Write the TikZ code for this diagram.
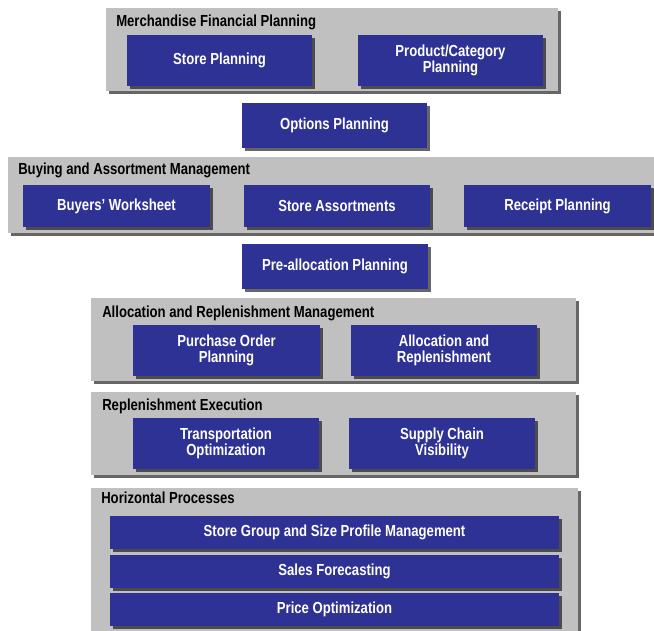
\documentclass[tikz,border=0pt]{standalone}
\usepackage{fontspec}
\setmainfont[FakeStretch=0.82]{Liberation Sans}
\usetikzlibrary{shadows,fit}
\definecolor{boxblue}{RGB}{46,50,148}
\definecolor{panelgray}{RGB}{192,192,192}
\begin{document}
\begin{tikzpicture}[x=0.75pt,y=-0.75pt,
  panel/.style={fill=panelgray, draw=none, inner sep=0pt,
    drop shadow={shadow xshift=2.2pt, shadow yshift=-2.2pt, fill=black, opacity=0.6}},
  box/.style={fill=boxblue, draw=none, inner sep=0pt,
    drop shadow={shadow xshift=2.2pt, shadow yshift=-2.2pt, fill=black, opacity=0.6}},
  boxtext/.style={inner sep=0pt, text=white, align=center,
    font=\bfseries\fontsize{12}{11.8}\selectfont},
  ptitle/.style={anchor=base west, inner sep=0pt, text=black,
    font=\bfseries\fontsize{12}{12}\selectfont}]
\useasboundingbox (0,0) rectangle (654,631);
\fill[white] (0,0) rectangle (654,631);

% Panels
\node[panel, fit={(106,8) (558,91)}] (p1) {};
\node[panel, fit={(8,157) (660,233)}] (p2) {};
\node[panel, fit={(91,298) (576,381)}] (p3) {};
\node[panel, fit={(91,392) (576,475)}] (p4) {};
\node[panel, fit={(91,488) (578,640)}] (p5) {};

% Panel titles
\node[ptitle] (t1) at (116,27) {Merchandise Financial Planning};
\node[ptitle] (t2) at (18,175) {Buying and Assortment Management};
\node[ptitle] (t3) at (102,318) {Allocation and Replenishment Management};
\node[ptitle] (t4) at (102,410) {Replenishment Execution};
\node[ptitle] (t5) at (101,503) {Horizontal Processes};

% Boxes
\node[box, fit={(127,35) (312,86)}] (sp) {};
\node[box, fit={(358,35) (543,86)}] (pc) {};
\node[box, fit={(242,103) (427,148)}] (op) {};
\node[box, fit={(23,185) (210,227)}] (bw) {};
\node[box, fit={(244,185) (430,227)}] (sa) {};
\node[box, fit={(464,185) (651,227)}] (rp) {};
\node[box, fit={(242,244) (428,289)}] (pa) {};
\node[box, fit={(133,325) (320,376)}] (po) {};
\node[box, fit={(351,325) (537,376)}] (ar) {};
\node[box, fit={(133,418) (319,469)}] (to) {};
\node[box, fit={(349,418) (535,469)}] (sc) {};
\node[box, fit={(110,516) (559,549)}] (sg) {};
\node[box, fit={(110,555) (559,588)}] (sf) {};
\node[box, fit={(110,593) (559,626)}] (pr) {};

% Box texts
\node[boxtext] (spt) at (sp.center) {Store Planning};
\node[boxtext] (pct) at (pc.center) {Product/Category\\Planning};
\node[boxtext] (opt) at (op.center) {Options Planning};
\node[boxtext] (bwt) at (bw.center) {Buyers’ Worksheet};
\node[boxtext] (sat) at (sa.center) {Store Assortments};
\node[boxtext] (rpt) at (rp.center) {Receipt Planning};
\node[boxtext] (pat) at (pa.center) {Pre-allocation Planning};
\node[boxtext] (pot) at (po.center) {Purchase Order\\Planning};
\node[boxtext] (art) at (ar.center) {Allocation and\\Replenishment};
\node[boxtext] (tot) at (to.center) {Transportation\\Optimization};
\node[boxtext] (sct) at (sc.center) {Supply Chain\\Visibility};
\node[boxtext] (sgt) at (sg.center) {Store Group and Size Profile Management};
\node[boxtext] (sft) at (sf.center) {Sales Forecasting};
\node[boxtext] (prt) at (pr.center) {Price Optimization};
\end{tikzpicture}
\end{document}
